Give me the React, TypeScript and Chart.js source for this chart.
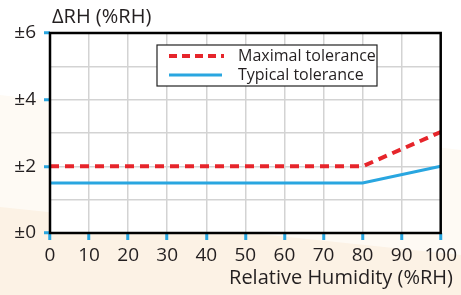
import React, { useEffect, useRef } from "react";
import { Chart, registerables } from "chart.js";

Chart.register(...registerables);

const humidity = [0, 80, 100];
const maximalTolerance = [2, 2, 3.03];
const typicalTolerance = [1.5, 1.5, 2];
const seriesLabels = ["Maximal tolerance", "Typical tolerance"];
const yTitle = "ΔRH (%RH)";
const xTitle = "Relative Humidity (%RH)";

const RED = "#e6252b";
const BLUE = "#29a6e0";
const TEXT = "#231f20";
const FONT = "'Open Sans', sans-serif";

const decorPlugin = {
  id: "decor",
  beforeDraw(chart: any) {
    const { ctx, width, height, chartArea } = chart;
    ctx.save();
    ctx.fillStyle = "#ffffff";
    ctx.fillRect(0, 0, width, height);
    ctx.fillStyle = "#fefaf4";
    ctx.beginPath();
    ctx.moveTo(0, 95);
    ctx.lineTo(width, 150);
    ctx.lineTo(width, height);
    ctx.lineTo(0, height);
    ctx.closePath();
    ctx.fill();
    ctx.fillStyle = "#fcf2e5";
    ctx.beginPath();
    ctx.moveTo(0, 207);
    ctx.lineTo(width, 255);
    ctx.lineTo(width, height);
    ctx.lineTo(0, height);
    ctx.closePath();
    ctx.fill();
    ctx.fillStyle = "#ffffff";
    ctx.fillRect(chartArea.left, chartArea.top, chartArea.right - chartArea.left, chartArea.bottom - chartArea.top);
    ctx.restore();
  },
  afterDatasetsDraw(chart: any) {
    const { ctx, chartArea } = chart;
    ctx.save();
    ctx.strokeStyle = "#000000";
    ctx.lineWidth = 2.5;
    ctx.strokeRect(chartArea.left, chartArea.top, chartArea.right - chartArea.left, chartArea.bottom - chartArea.top);
    ctx.restore();
  },
  afterDraw(chart: any) {
    const { ctx } = chart;
    ctx.save();
    // axis titles
    ctx.fillStyle = TEXT;
    ctx.font = `20px ${FONT}`;
    ctx.textBaseline = "middle";
    ctx.textAlign = "left";
    ctx.fillText(yTitle, 52, 17);
    ctx.textAlign = "right";
    ctx.fillText(xTitle, 453, 278);
    // legend box
    const bx = 157, by = 45, bw = 220, bh = 41;
    ctx.fillStyle = "#ffffff";
    ctx.fillRect(bx, by, bw, bh);
    ctx.strokeStyle = "#222222";
    ctx.lineWidth = 1.2;
    ctx.strokeRect(bx, by, bw, bh);
    ctx.lineWidth = 4;
    ctx.strokeStyle = RED;
    ctx.setLineDash([8, 5]);
    ctx.beginPath();
    ctx.moveTo(169, 56);
    ctx.lineTo(224, 56);
    ctx.stroke();
    ctx.setLineDash([]);
    ctx.lineWidth = 3;
    ctx.strokeStyle = BLUE;
    ctx.beginPath();
    ctx.moveTo(169, 75);
    ctx.lineTo(222, 75);
    ctx.stroke();
    ctx.fillStyle = TEXT;
    ctx.font = `16px ${FONT}`;
    ctx.textAlign = "left";
    ctx.fillText(seriesLabels[0], 238, 56);
    ctx.fillText(seriesLabels[1], 238, 75);
    ctx.restore();
  },
};

export default function App() {
  const ref = useRef<HTMLCanvasElement | null>(null);
  useEffect(() => {
    document.body.style.margin = "0";
    const canvas = ref.current;
    if (!canvas) return;
    const chart = new Chart(canvas, {
      type: "line",
      data: {
        datasets: [
          {
            label: seriesLabels[0],
            data: humidity.map((x, i) => ({ x, y: maximalTolerance[i] })),
            borderColor: RED,
            borderWidth: 4,
            borderDash: [9, 6],
            pointRadius: 0,
            fill: false,
            tension: 0,
          },
          {
            label: seriesLabels[1],
            data: humidity.map((x, i) => ({ x, y: typicalTolerance[i] })),
            borderColor: BLUE,
            borderWidth: 3,
            pointRadius: 0,
            fill: false,
            tension: 0,
          },
        ],
      },
      options: {
        animation: false,
        responsive: false,
        maintainAspectRatio: false,
        devicePixelRatio: 1,
        layout: { padding: { top: 33, right: 19, left: 0, bottom: 0 } },
        plugins: { legend: { display: false }, tooltip: { enabled: false }, title: { display: false } },
        scales: {
          x: {
            type: "linear",
            min: 0,
            max: 100,
            afterFit: (s: any) => { s.height = 62; },
            border: { display: false },
            grid: {
              color: "#d3d3d3",
              lineWidth: 1.5,
              tickLength: 7,
              tickWidth: 3,
              tickColor: BLUE,
            },
            ticks: {
              stepSize: 10,
              maxRotation: 0,
              autoSkip: false,
              padding: 4,
              color: TEXT,
              font: { family: FONT, size: 19 },
            },
          },
          y: {
            type: "linear",
            min: 0,
            max: 6,
            afterFit: (s: any) => { s.width = 50; },
            border: { display: false },
            grid: {
              color: "#d3d3d3",
              lineWidth: 1.5,
              tickLength: 6,
              tickWidth: 3,
              tickColor: (c: any) => (c.tick && c.tick.value % 2 === 0 ? BLUE : "rgba(0,0,0,0)"),
            },
            ticks: {
              stepSize: 1,
              autoSkip: false,
              padding: 8,
              color: TEXT,
              font: { family: FONT, size: 19 },
              callback: (v: any) => (Number(v) % 2 === 0 ? "±" + v : ""),
            },
          },
        },
      },
      plugins: [decorPlugin],
    } as any);
    return () => chart.destroy();
  }, []);
  return (
    <div style={{ position: "absolute", left: 0, top: 0, width: 461, height: 295 }}>
      <canvas ref={ref} width={461} height={295} style={{ width: 461, height: 295, display: "block" }} />
    </div>
  );
}
